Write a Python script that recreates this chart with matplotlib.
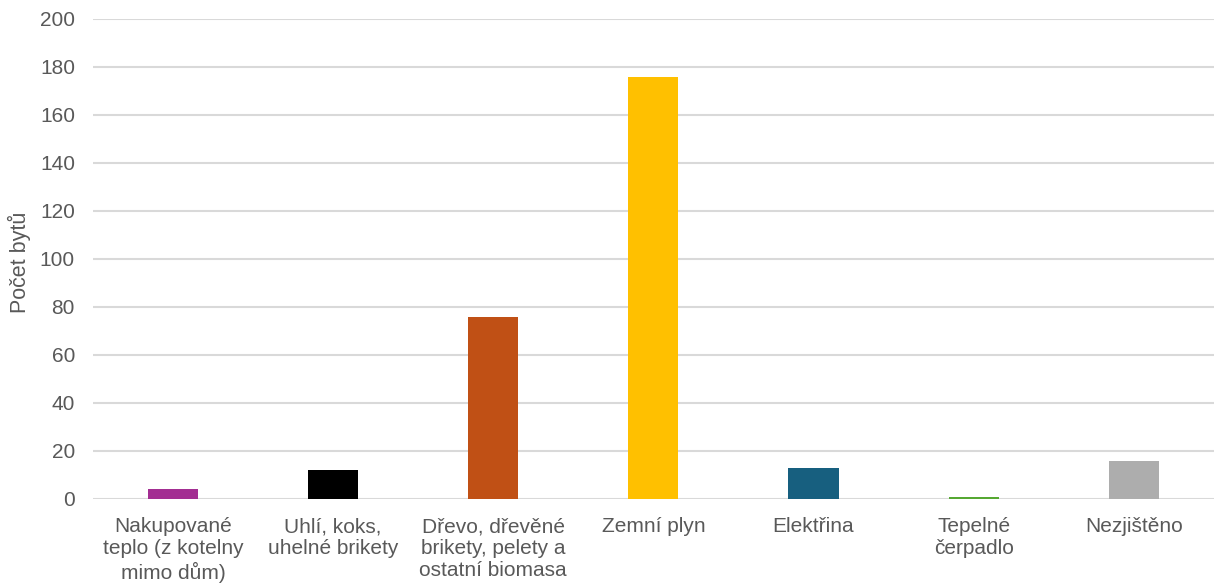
import matplotlib.pyplot as plt

categories = [
    "Nakupované\nteplo (z kotelny\nmimo dům)",
    "Uhlí, koks,\nuhelné brikety",
    "Dřevo, dřevěné\nbrikety, pelety a\nostatní biomasa",
    "Zemní plyn",
    "Elektřina",
    "Tepelné\nčerpadlo",
    "Nezjištěno",
]
values = [4, 12, 76, 176, 13, 1, 16]
colors = ["#A32E92", "#000000", "#C05015", "#FFC000", "#175F7F", "#56A832", "#ADADAD"]
y_ticks = [0, 20, 40, 60, 80, 100, 120, 140, 160, 180, 200]

plt.rcParams["font.family"] = ["Liberation Sans", "DejaVu Sans"]
text_color = "#595959"

fig = plt.figure(figsize=(12.15, 5.88), dpi=100)
ax = fig.add_axes([0.0765, 0.1514, 0.9225, 0.8163])

x = range(len(categories))
ax.bar(x, values, width=0.3125, color=colors, zorder=3)

ax.set_ylim(0, 200)
ax.set_xlim(-0.5, len(categories) - 0.5)
ax.set_yticks(y_ticks)
ax.set_xticks(list(x))
ax.set_xticklabels(categories, fontsize=15, color=text_color, linespacing=1.2)
ax.tick_params(axis="y", labelsize=15, labelcolor=text_color, length=0, pad=13)
ax.tick_params(axis="x", length=0, pad=13)
ax.grid(axis="y", color="#D9D9D9", linewidth=1.5, zorder=0)
for spine in ax.spines.values():
    spine.set_visible(False)

# y label placed in figure coords so it is not cut at the left edge
fig.text(19 / 1215, 1 - 262 / 588, "Počet bytů", rotation=90, fontsize=15.5,
         color=text_color, ha="center", va="center")

fig.savefig("out.png", dpi=100)
